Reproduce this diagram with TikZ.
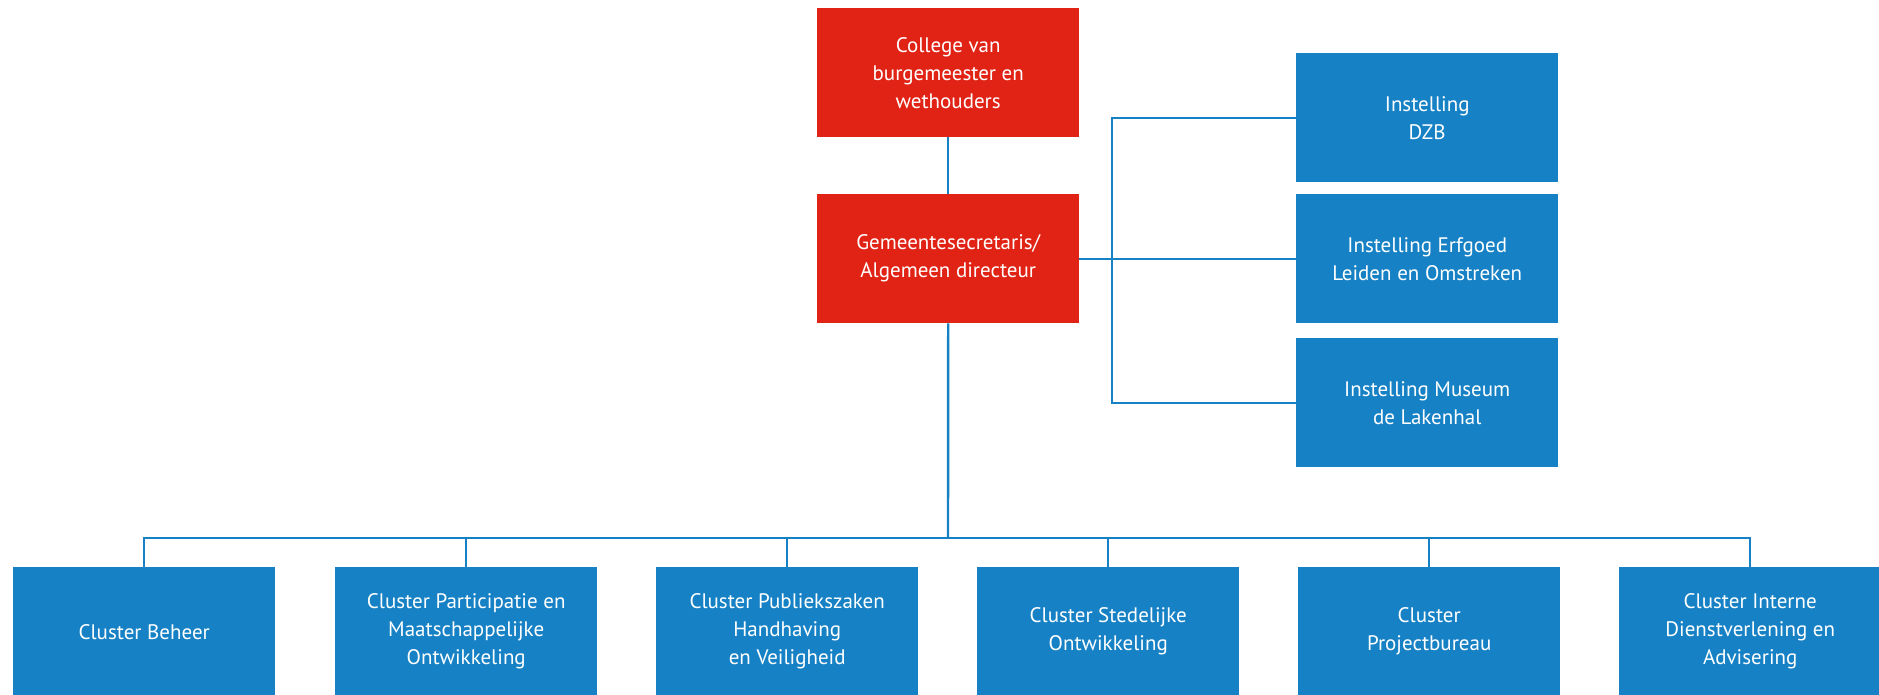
\documentclass[tikz,border=0pt]{standalone}
\usepackage{fontspec}
\setmainfont{PT Sans}
\definecolor{orgred}{HTML}{E12315}
\definecolor{orgblue}{HTML}{1681C4}
\begin{document}
\begin{tikzpicture}[x=1pt,y=-1pt,
  box/.style={rectangle, minimum width=262pt, minimum height=129pt, inner sep=0pt,
    text=white, align=center, font=\fontsize{21}{28}\selectfont, anchor=north west},
  redbox/.style={box, fill=orgred},
  bluebox/.style={box, fill=orgblue},
  link/.style={draw=orgblue, line width=2.4pt}]
\useasboundingbox (0,0) rectangle (1879,694);
% top
\node[redbox] (col) at (817,8) {College van\\burgemeester en\\wethouders};
\node[redbox] (gem) at (817,194) {Gemeentesecretaris/\\Algemeen directeur};
% right
\node[bluebox] (dzb) at (1296,53) {Instelling\\DZB};
\node[bluebox] (erf) at (1296,194) {Instelling Erfgoed\\Leiden en Omstreken};
\node[bluebox] (mus) at (1296,338) {Instelling Museum\\de Lakenhal};
% bottom
\node[bluebox] (b1) at (13,567) {Cluster Beheer};
\node[bluebox] (b2) at (335,567) {Cluster Participatie en\\Maatschappelijke\\Ontwikkeling};
\node[bluebox] (b3) at (656,567) {Cluster Publiekszaken\\Handhaving\\en Veiligheid};
\node[bluebox] (b4) at (977,567) {Cluster Stedelijke\\Ontwikkeling};
\node[bluebox] (b5) at (1298,567) {Cluster\\Projectbureau};
\node[bluebox] (b6) at (1619,567) {Cluster Interne\\Dienstverlening en\\Advisering};
% connectors
\coordinate (sp) at (1112,0);
\coordinate (bus) at (948,538);
\draw[link] (col.south) -- (gem.north);
\draw[link] (gem.east) -- (erf.west);
\draw[link] (dzb.west) -- (dzb.west -| sp) -- (mus.west -| sp) -- (mus.west);
\draw[link] (gem.south) -- (bus);
\draw[link] (b1.north) -- (b1.north |- bus) -- (b6.north |- bus) -- (b6.north);
\foreach \b in {b2,b3,b4,b5}{\draw[link] (\b.north) -- (\b.north |- bus);}
\end{tikzpicture}
\end{document}
